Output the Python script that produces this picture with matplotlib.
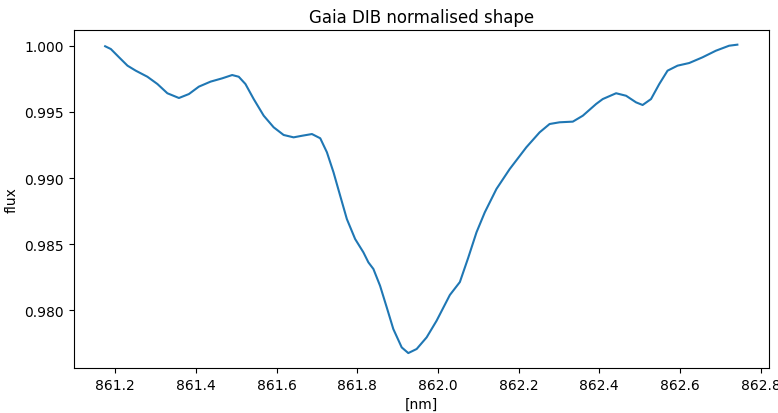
import matplotlib
matplotlib.use("Agg")
import matplotlib.pyplot as plt

# wavelength [nm] and normalised flux
wavelength = [861.1748, 861.1889, 861.2094, 861.2302, 861.2507, 861.2796, 861.3044, 861.3291,
              861.3578, 861.3825, 861.4072, 861.4362, 861.4651, 861.4898, 861.5061, 861.5227,
              861.5432, 861.5680, 861.5927, 861.6174, 861.6421, 861.6629, 861.6876, 861.7082,
              861.7247, 861.7411, 861.7576, 861.7742, 861.7947, 861.8152, 861.8276, 861.8400,
              861.8565, 861.8731, 861.8894, 861.9102, 861.9265, 861.9473, 861.9720, 861.9967,
              862.0296, 862.0544, 862.0749, 862.0957, 862.1162, 862.1451, 862.1780, 862.2193,
              862.2522, 862.2769, 862.3016, 862.3345, 862.3593, 862.3924, 862.4087, 862.4418,
              862.4666, 862.4913, 862.5076, 862.5284, 862.5489, 862.5694, 862.5942, 862.6231,
              862.6560, 862.6891, 862.7220, 862.7425]
flux = [0.99998, 0.99977, 0.99914, 0.99851, 0.99813, 0.99767, 0.99712, 0.99642,
        0.99606, 0.99636, 0.99692, 0.99730, 0.99755, 0.99780, 0.99767, 0.99712,
        0.99598, 0.99472, 0.99384, 0.99326, 0.99308, 0.99320, 0.99333, 0.99301,
        0.99195, 0.99043, 0.98866, 0.98689, 0.98538, 0.98437, 0.98361, 0.98311,
        0.98184, 0.98020, 0.97856, 0.97717, 0.97674, 0.97705, 0.97793, 0.97919,
        0.98114, 0.98212, 0.98394, 0.98589, 0.98740, 0.98917, 0.99068, 0.99233,
        0.99346, 0.99409, 0.99422, 0.99427, 0.99472, 0.99561, 0.99598, 0.99642,
        0.99623, 0.99573, 0.99553, 0.99598, 0.99712, 0.99813, 0.99851, 0.99871,
        0.99914, 0.99964, 1.00002, 1.00010]

fig, ax = plt.subplots(figsize=(7.78, 4.14), dpi=100)
fig.subplots_adjust(left=0.0945, right=0.9884, top=0.9251, bottom=0.1087)
ax.plot(wavelength, flux, color="#1f77b4", lw=1.5)
ax.set_title("Gaia DIB normalised shape")
ax.set_xlabel("[nm]")
ax.set_ylabel("flux")
ax.set_xticks([861.2, 861.4, 861.6, 861.8, 862.0, 862.2, 862.4, 862.6, 862.8])
ax.set_yticks([0.980, 0.985, 0.990, 0.995, 1.000])
ax.set_xlim(861.0964, 862.8209)
ax.set_ylim(0.97561, 1.00121)
fig.savefig("out.png", dpi=100)
